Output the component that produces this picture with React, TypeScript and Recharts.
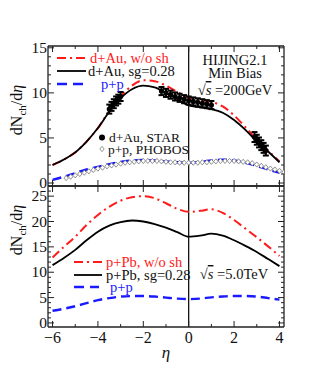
import React from 'react';
import { ComposedChart, Line, Scatter, ErrorBar, XAxis, YAxis, ReferenceLine } from 'recharts';

const FONT = '"Liberation Serif", "Times New Roman", serif';
const RED = '#ff1a1a';
const BLUE = '#1a1aff';

// shared pseudorapidity grid for the model curves
const etaGrid = [-6, -5.5, -5, -4.5, -4, -3.5, -3, -2.5, -2, -1.5, -1, -0.5, 0, 0.5, 1, 1.5, 2, 2.5, 3, 3.5, 4];

// top panel: d+Au / p+p at 200 GeV
const dAuNoSh = [2.0, 2.6, 3.4, 4.6, 6.1, 8.0, 9.6, 10.8, 11.4, 11.3, 10.8, 10.1, 9.5, 9.2, 9.0, 8.5, 7.5, 6.2, 4.8, 3.6, 2.4];
const dAuSg = [2.0, 2.6, 3.4, 4.6, 6.1, 7.9, 9.4, 10.4, 10.8, 10.6, 10.0, 9.3, 8.6, 8.4, 8.2, 7.8, 7.0, 5.9, 4.6, 3.5, 2.3];
const ppRhic = [0.35, 0.7, 1.1, 1.5, 1.8, 2.1, 2.35, 2.5, 2.55, 2.5, 2.4, 2.3, 2.25, 2.35, 2.5, 2.6, 2.5, 2.25, 1.9, 1.5, 1.15];

const starEta = [-3.5, -3.4, -3.3, -3.2, -3.1, -3.0, -1.2, -1.0, -0.8, -0.6, -0.4, -0.2, 0, 0.2, 0.4, 0.6, 0.8, 1.0, 2.9, 3.0, 3.1, 3.2, 3.3, 3.4];
const starVal = [8.2, 8.5, 8.8, 9.1, 9.3, 9.6, 10.2, 10.0, 9.8, 9.6, 9.45, 9.3, 9.15, 9.05, 8.95, 8.85, 8.75, 8.65, 5.1, 4.8, 4.5, 4.2, 3.9, 3.6];
const starErr = [0.5, 0.5, 0.5, 0.5, 0.5, 0.5, 0.45, 0.45, 0.45, 0.45, 0.45, 0.45, 0.45, 0.45, 0.45, 0.45, 0.45, 0.45, 0.55, 0.55, 0.55, 0.55, 0.55, 0.55];

const phobosEta = [-5.4, -5.2, -5.0, -4.8, -4.6, -4.4, -4.2, -4.0, -3.8, -3.6, -3.4, -3.2, -3.0, -2.8, -2.6, -2.4, -2.2, -2.0, -1.8, -1.6, -1.4, -1.2, -1.0, -0.8, -0.6, -0.4, -0.2, 0, 0.2, 0.4, 0.6, 0.8, 1.0, 1.2, 1.4, 1.6, 1.8, 2.0, 2.2, 2.4, 2.6, 2.8, 3.0, 3.2, 3.4, 3.6, 3.8, 4.0, 4.2];
const phobosVal = [0.55, 0.7, 0.85, 1.0, 1.15, 1.3, 1.45, 1.6, 1.7, 1.85, 1.95, 2.05, 2.15, 2.25, 2.3, 2.35, 2.4, 2.45, 2.45, 2.45, 2.45, 2.4, 2.35, 2.3, 2.3, 2.25, 2.25, 2.25, 2.25, 2.25, 2.3, 2.3, 2.35, 2.4, 2.45, 2.45, 2.45, 2.45, 2.4, 2.35, 2.3, 2.2, 2.05, 1.9, 1.75, 1.6, 1.5, 1.35, 1.2];

// bottom panel: p+Pb / p+p at 5 TeV
const pPbNoSh = [12.9, 15.0, 17.0, 19.3, 21.3, 22.9, 24.1, 24.8, 25.0, 24.6, 23.6, 22.5, 21.9, 22.1, 22.4, 21.7, 20.3, 18.6, 16.9, 15.1, 13.2];
const pPbSg = [11.4, 12.8, 14.4, 16.3, 18.0, 19.2, 19.9, 20.2, 20.0, 19.5, 18.8, 17.9, 17.0, 17.2, 17.6, 17.2, 16.3, 15.2, 14.0, 12.6, 11.2];
const ppLhc = [2.4, 2.8, 3.3, 3.9, 4.5, 4.9, 5.2, 5.3, 5.3, 5.2, 5.0, 4.8, 4.7, 4.8, 5.05, 5.2, 5.3, 5.3, 5.2, 4.9, 4.6];

const xTicks = [-6, -5, -4, -3, -2, -1, 0, 1, 2, 3, 4];
const topYTicks = [0, 1, 2, 3, 4, 5, 6, 7, 8, 9, 10, 11, 12, 13, 14, 15];
const botYTicks = [0, 1, 2, 3, 4, 5, 6, 7, 8, 9, 10, 11, 12, 13, 14, 15, 16, 17, 18, 19, 20, 21, 22, 23, 24, 25, 26];

const pts = (xs: number[], ys: number[]) => xs.map((x, i) => ({ x, y: ys[i] }));
const starPts = starEta.map((x, i) => ({ x, y: starVal[i], e: starErr[i] }));

const fmt = (v: number) => (v < 0 ? '\u2212' + Math.abs(v) : String(v));

const LeftTick = (p: any) => {
  const v = p.payload.value;
  const major = v % 5 === 0;
  return (
    <g>
      <line x1={p.x} x2={p.x + (major ? 6 : 3)} y1={p.y} y2={p.y} stroke="#222" />
      {major && (
        <text x={p.x - 1} y={p.y + 5} textAnchor="end" fontSize={15.5} fontFamily={FONT} fill="#111">
          {v}
        </text>
      )}
    </g>
  );
};

const RightTick = (p: any) => {
  const major = p.payload.value % 5 === 0;
  return <line x1={p.x} x2={p.x - (major ? 6 : 3)} y1={p.y} y2={p.y} stroke="#222" />;
};

const TopTick = (p: any) => {
  const major = p.payload.value % 2 === 0;
  return <line x1={p.x} x2={p.x} y1={p.y} y2={p.y + (major ? 6 : 3)} stroke="#222" />;
};

const BottomTick = (p: any) => {
  const v = p.payload.value;
  const major = v % 2 === 0;
  return (
    <g>
      <line x1={p.x} x2={p.x} y1={p.y} y2={p.y - (major ? 6 : 3)} stroke="#222" />
      {major && p.showLabels && (
        <text x={p.x} y={p.y + 16} textAnchor="middle" fontSize={16} fontFamily={FONT} fill="#111">
          {fmt(v)}
        </text>
      )}
    </g>
  );
};

const Diamond = (p: any) => (
  <path
    d={`M${p.cx},${p.cy - 2.6}L${p.cx + 2.2},${p.cy}L${p.cx},${p.cy + 2.6}L${p.cx - 2.2},${p.cy}Z`}
    fill="#fff"
    stroke="#777"
    strokeWidth={0.8}
  />
);

const Dot = (p: any) => <circle cx={p.cx} cy={p.cy} r={2.6} fill="#000" />;

const axisLine = { stroke: '#222', strokeWidth: 1.3 };

interface PanelProps {
  topH: number;
  botH: number;
  yDomain: [number, number];
  yTicks: number[];
  showLabels: boolean;
  children: React.ReactNode;
}

const Panel: React.FC<PanelProps> = ({ topH, botH, yDomain, yTicks, showLabels, children }) => (
  <ComposedChart
    width={332}
    height={374}
    margin={{ top: 0, right: 0, bottom: 0, left: 0 }}
    style={{ position: 'absolute', left: 0, top: 0 }}
  >
    <XAxis
      dataKey="x"
      type="number"
      domain={[-6.2, 4.2]}
      ticks={xTicks}
      interval={0}
      allowDataOverflow
      height={botH}
      tickSize={0}
      tickMargin={0}
      axisLine={axisLine}
      tickLine={false}
      tick={(p: any) => <BottomTick {...p} showLabels={showLabels} />}
    />
    <XAxis
      xAxisId="top"
      orientation="top"
      dataKey="x"
      type="number"
      domain={[-6.2, 4.2]}
      ticks={xTicks}
      interval={0}
      allowDataOverflow
      height={topH}
      tickSize={0}
      tickMargin={0}
      axisLine={axisLine}
      tickLine={false}
      tick={(p: any) => <TopTick {...p} />}
    />
    <YAxis
      type="number"
      domain={yDomain}
      ticks={yTicks}
      interval={0}
      allowDataOverflow
      width={48}
      tickSize={0}
      tickMargin={0}
      axisLine={axisLine}
      tickLine={false}
      tick={(p: any) => <LeftTick {...p} />}
    />
    <YAxis
      yAxisId="right"
      orientation="right"
      type="number"
      domain={yDomain}
      ticks={yTicks}
      interval={0}
      allowDataOverflow
      width={48}
      tickSize={0}
      tickMargin={0}
      axisLine={axisLine}
      tickLine={false}
      tick={(p: any) => <RightTick {...p} />}
    />
    <ReferenceLine x={0} stroke="#000" strokeWidth={1.2} />
    {children}
  </ComposedChart>
);

const YLabel: React.FC<{ cy: number }> = ({ cy }) => (
  <text transform={`translate(22,${cy}) rotate(-90)`} textAnchor="middle" fontSize={16} fontFamily={FONT} fill="#111">
    dN<tspan fontSize={11} dy={4}>ch</tspan>
    <tspan dy={-4}>/d</tspan>
    <tspan fontStyle="italic">η</tspan>
  </text>
);

const Sqrt: React.FC<{ x: number; y: number; rest: string }> = ({ x, y, rest }) => (
  <text x={x} y={y} textAnchor="middle" fontSize={14.5} fontFamily={FONT} fill="#111">
    √<tspan fontStyle="italic" textDecoration="overline">s</tspan> {rest}
  </text>
);

export default function App() {
  const txt = { fontSize: 14.5, fontFamily: FONT };
  const small = { fontSize: 13.5, fontFamily: FONT };
  return (
    <div style={{ position: 'absolute', left: 0, top: 0, width: 332, height: 374, background: '#fff' }}>
      <Panel topH={46} botH={188} yDomain={[-0.33, 15.2]} yTicks={topYTicks} showLabels={false}>
        <Line data={pts(etaGrid, dAuNoSh)} dataKey="y" type="monotone" stroke={RED} strokeWidth={2} strokeDasharray="9 4 2 4" dot={false} isAnimationActive={false} />
        <Line data={pts(etaGrid, dAuSg)} dataKey="y" type="monotone" stroke="#000" strokeWidth={1.8} dot={false} isAnimationActive={false} />
        <Line data={pts(etaGrid, ppRhic)} dataKey="y" type="monotone" stroke={BLUE} strokeWidth={2.4} strokeDasharray="9 5" dot={false} isAnimationActive={false} />
        <Scatter data={pts(phobosEta, phobosVal)} dataKey="y" shape={Diamond} isAnimationActive={false} />
        <Scatter data={starPts} dataKey="y" shape={Dot} isAnimationActive={false}>
          <ErrorBar dataKey="e" direction="y" width={3} stroke="#000" strokeWidth={2} />
        </Scatter>
      </Panel>
      <Panel topH={186} botH={47} yDomain={[-0.8, 27]} yTicks={botYTicks} showLabels={true}>
        <Line data={pts(etaGrid, pPbNoSh)} dataKey="y" type="monotone" stroke={RED} strokeWidth={2} strokeDasharray="9 4 2 4" dot={false} isAnimationActive={false} />
        <Line data={pts(etaGrid, pPbSg)} dataKey="y" type="monotone" stroke="#000" strokeWidth={1.8} dot={false} isAnimationActive={false} />
        <Line data={pts(etaGrid, ppLhc)} dataKey="y" type="monotone" stroke={BLUE} strokeWidth={2.4} strokeDasharray="9 5" dot={false} isAnimationActive={false} />
      </Panel>
      <svg width={332} height={374} style={{ position: 'absolute', left: 0, top: 0 }}>
        <YLabel cy={110} />
        <YLabel cy={230} />
        <text x={166} y={358} textAnchor="middle" fontSize={17} fontFamily={FONT} fontStyle="italic" fill="#111">η</text>

        {/* top panel legend */}
        <line x1={57} x2={86} y1={58} y2={58} stroke={RED} strokeWidth={2} strokeDasharray="9 4 2 4" />
        <text x={90} y={63} fill={RED} {...txt}>d+Au, w/o sh</text>
        <line x1={57} x2={86} y1={71} y2={71} stroke="#000" strokeWidth={1.8} />
        <text x={88} y={76} fill="#111" {...txt}>d+Au, sg=0.28</text>
        <line x1={57} x2={88} y1={84} y2={84} stroke={BLUE} strokeWidth={2.4} strokeDasharray="10 6" />
        <text x={101} y={89} fill={BLUE} {...txt}>p+p</text>

        <circle cx={102} cy={137.5} r={3} fill="#000" />
        <text x={109} y={142} fill="#111" {...small}>d+Au, STAR</text>
        <path d="M102,146.4L104.2,149L102,151.6L99.8,149Z" fill="#fff" stroke="#777" strokeWidth={0.8} />
        <text x={108} y={153.5} fill="#111" {...small}>p+p, PHOBOS</text>

        <text x={235} y={65} textAnchor="middle" fill="#111" {...txt}>HIJING2.1</text>
        <text x={235} y={78} textAnchor="middle" fill="#111" {...txt}>Min Bias</text>
        <Sqrt x={235} y={95} rest="=200GeV" />

        {/* bottom panel legend */}
        <line x1={74} x2={102} y1={262} y2={262} stroke={RED} strokeWidth={2} strokeDasharray="9 4 2 4" />
        <text x={106} y={267} fill={RED} {...txt}>p+Pb, w/o sh</text>
        <line x1={74} x2={102} y1={275} y2={275} stroke="#000" strokeWidth={1.8} />
        <text x={106} y={280} fill="#111" {...txt}>p+Pb, sg=0.28</text>
        <line x1={74} x2={99} y1={287} y2={287} stroke={BLUE} strokeWidth={2.4} strokeDasharray="10 6" />
        <text x={110} y={292} fill={BLUE} {...txt}>p+p</text>
        <Sqrt x={234} y={279} rest="=5.0TeV" />
      </svg>
    </div>
  );
}
